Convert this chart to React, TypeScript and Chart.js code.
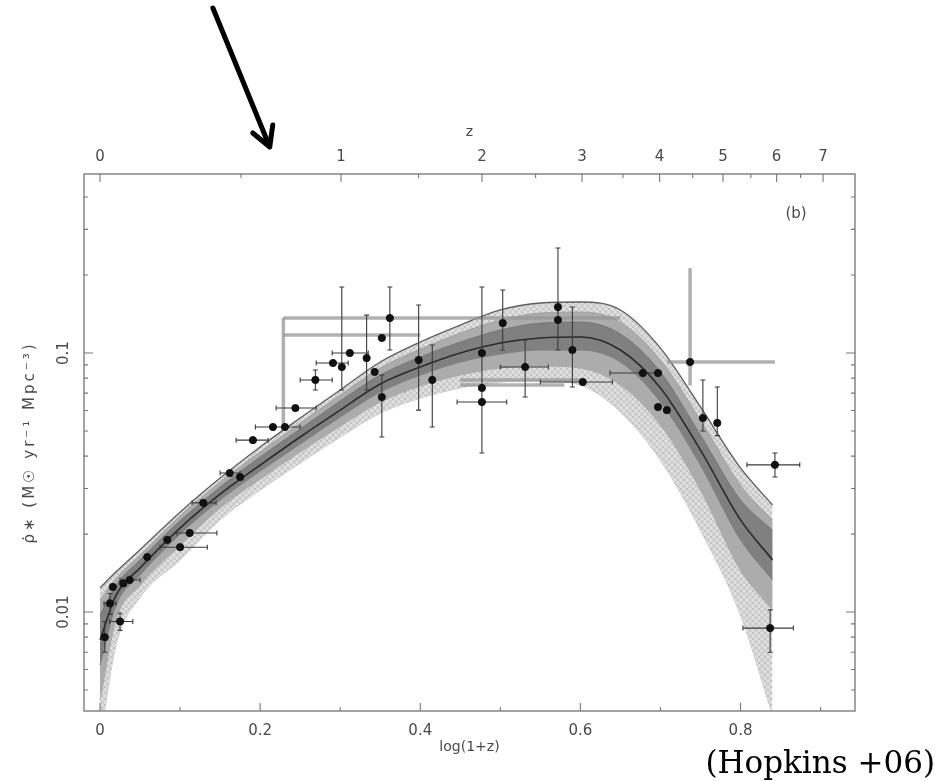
import React, { useEffect, useRef } from 'react';
import { Chart, registerables } from 'chart.js';
Chart.register(...registerables);

// ---------- axes ----------
const xMin = -0.02;
const xMax = 0.943;
const yMin = 0.00415;
const yMax = 0.491;
const xTickValues = [0, 0.2, 0.4, 0.6, 0.8];
const xTickLabels = ['0', '0.2', '0.4', '0.6', '0.8'];
const xMinorTicks = [0.1, 0.3, 0.5, 0.7, 0.9];
const zTickValues = [0, 1, 2, 3, 4, 5, 6, 7];
const zTickLabels = ['0', '1', '2', '3', '4', '5', '6', '7'];
const zMinorTicks = [0.5, 1.5, 2.5, 3.5, 4.5, 5.5, 6.5];
const yMajorTicks = [0.01, 0.1];
const yTickLabels = ['0.01', '0.1'];
const yMinorTicks = [0.005, 0.006, 0.007, 0.008, 0.009, 0.02, 0.03, 0.04, 0.05, 0.06, 0.07, 0.08, 0.09, 0.2, 0.3, 0.4];

const xTitle = 'log(1+z)';
const zTitle = 'z';
const yTitle = 'ρ̇∗ (M☉ yr⁻¹ Mpc⁻³)';
const panelLabel = '(b)';
const citation = '(Hopkins +06)';
const arrowTipX = 0.212;
const arrowTailX = 0.141;

// ---------- fit bands (log(1+z) vs SFR density) ----------
const bandX = [0, 0.02, 0.05, 0.1, 0.15, 0.2, 0.25, 0.3, 0.35, 0.4, 0.45, 0.5, 0.55, 0.6, 0.65, 0.7, 0.75, 0.8, 0.84];
const outerUpper = [0.0124, 0.0143, 0.0174, 0.0243, 0.0329, 0.0434, 0.0561, 0.072, 0.0923, 0.1103, 0.1282, 0.1466, 0.156, 0.1574, 0.1466, 0.1045, 0.0619, 0.036, 0.0259];
const midUpper = [0.0111, 0.0135, 0.0166, 0.0235, 0.0318, 0.0415, 0.0537, 0.0688, 0.0875, 0.1036, 0.1195, 0.1341, 0.1427, 0.144, 0.1317, 0.094, 0.0551, 0.0309, 0.0227];
const innerUpper = [0.00974, 0.0127, 0.0159, 0.0225, 0.0304, 0.0397, 0.0509, 0.0653, 0.0822, 0.0965, 0.1103, 0.1227, 0.1305, 0.1317, 0.1184, 0.0845, 0.0482, 0.0271, 0.0207];
const centerFit = [0.0078, 0.0116, 0.0148, 0.0211, 0.0285, 0.0369, 0.0474, 0.0602, 0.0759, 0.0883, 0.1, 0.1093, 0.1143, 0.1153, 0.1027, 0.0733, 0.0422, 0.0227, 0.0159];
const innerLower = [0.00624, 0.0106, 0.0139, 0.02, 0.0271, 0.035, 0.0445, 0.0566, 0.0707, 0.0822, 0.0923, 0.0991, 0.1027, 0.1027, 0.0923, 0.0647, 0.0369, 0.019, 0.0133];
const midLower = [0.00457, 0.00931, 0.0127, 0.0181, 0.0252, 0.0326, 0.0415, 0.0522, 0.0647, 0.0746, 0.0822, 0.0875, 0.0891, 0.0875, 0.0752, 0.0527, 0.0296, 0.0145, 0.0102];
const outerLower = [0.00321, 0.00746, 0.0114, 0.0159, 0.0227, 0.0296, 0.0376, 0.0474, 0.0586, 0.067, 0.0733, 0.0773, 0.078, 0.0752, 0.0592, 0.0386, 0.0207, 0.00974, 0.004];

// ---------- measurements ----------
const ptX = [0.006, 0.0125, 0.016, 0.025, 0.029, 0.037, 0.059, 0.084, 0.1, 0.112, 0.129, 0.162, 0.175, 0.191, 0.216, 0.231, 0.244, 0.269, 0.291, 0.302, 0.312, 0.333, 0.343, 0.352, 0.362, 0.352, 0.398, 0.415, 0.477, 0.477, 0.477, 0.503, 0.531, 0.572, 0.572, 0.59, 0.603, 0.678, 0.697, 0.697, 0.708, 0.737, 0.753, 0.771, 0.843, 0.837];
const ptY = [0.008, 0.0108, 0.0125, 0.0092, 0.0129, 0.0133, 0.0163, 0.019, 0.0178, 0.0202, 0.0264, 0.0344, 0.0332, 0.0461, 0.0518, 0.0518, 0.0613, 0.0787, 0.0915, 0.0883, 0.1, 0.0956, 0.0845, 0.1143, 0.1365, 0.0676, 0.094, 0.0787, 0.1, 0.0733, 0.0647, 0.1305, 0.0883, 0.1505, 0.1341, 0.1027, 0.0773, 0.0837, 0.0837, 0.0619, 0.0602, 0.0923, 0.0561, 0.0537, 0.037, 0.00867];
const ptXLo = [null, 0.005, null, 0.012, null, 0.025, null, null, 0.075, 0.096, 0.115, 0.15, null, 0.17, 0.194, null, 0.22, 0.25, 0.27, null, 0.29, null, null, null, null, null, null, null, null, null, 0.446, null, 0.5, null, null, null, 0.55, 0.637, null, null, null, null, null, null, 0.808, 0.803];
const ptXHi = [null, 0.02, null, 0.041, null, 0.05, null, null, 0.134, 0.146, 0.145, 0.175, null, 0.21, 0.25, null, 0.27, 0.29, 0.31, null, 0.335, null, null, null, null, null, null, null, null, null, 0.508, null, 0.56, null, null, null, 0.64, 0.7, null, null, null, null, null, null, 0.874, 0.866];
const ptYLo = [0.007, 0.0098, null, 0.0085, null, null, null, null, null, null, null, null, null, null, null, null, null, 0.072, null, 0.072, null, 0.072, null, null, 0.1027, 0.0474, 0.0602, 0.0518, 0.0411, null, null, 0.1027, 0.0676, 0.1027, null, 0.0739, null, null, null, null, null, null, 0.05, 0.048, 0.0332, 0.007];
const ptYHi = [0.0092, 0.0118, null, 0.0099, null, null, null, null, null, null, null, null, null, null, null, null, null, 0.086, null, 0.1798, null, 0.1401, null, null, 0.1798, 0.0822, 0.1532, 0.1074, 0.1798, null, null, 0.1751, 0.1122, 0.2543, null, 0.1505, null, null, null, null, null, null, 0.0787, 0.0739, 0.0411, 0.0102];

const grayX = [0.362, 0.352, 0.229, 0.737, 0.52, 0.52];
const grayY = [0.1365, 0.1174, 0.07, 0.0923, 0.0787, 0.0752];
const grayXLo = [0.229, 0.229, null, 0.708, 0.45, 0.45];
const grayXHi = [0.65, 0.4, null, 0.843, 0.6, 0.58];
const grayYLo = [null, null, 0.0502, 0.075, null, null];
const grayYHi = [null, null, 0.1365, 0.2129, null, null];

const toXY = (xs: number[], ys: number[]) => xs.map((x, i) => ({ x, y: ys[i] }));

function drawErrorBars(ctx: any, sx: any, sy: any, xs: any[], ys: any[], xl: any[], xh: any[], yl: any[], yh: any[], color: string, width: number, cap: number) {
  ctx.save();
  ctx.strokeStyle = color;
  ctx.lineWidth = width;
  for (let i = 0; i < xs.length; i++) {
    const px = sx.getPixelForValue(xs[i]);
    const py = sy.getPixelForValue(ys[i]);
    ctx.beginPath();
    if (xl[i] != null) {
      const a = sx.getPixelForValue(xl[i]);
      const b = sx.getPixelForValue(xh[i]);
      ctx.moveTo(a, py); ctx.lineTo(b, py);
      if (cap > 0) { ctx.moveTo(a, py - cap); ctx.lineTo(a, py + cap); ctx.moveTo(b, py - cap); ctx.lineTo(b, py + cap); }
    }
    if (yl[i] != null) {
      const a = sy.getPixelForValue(yl[i]);
      const b = sy.getPixelForValue(yh[i]);
      ctx.moveTo(px, a); ctx.lineTo(px, b);
      if (cap > 0) { ctx.moveTo(px - cap, a); ctx.lineTo(px + cap, a); ctx.moveTo(px - cap, b); ctx.lineTo(px + cap, b); }
    }
    ctx.stroke();
  }
  ctx.restore();
}

const decorPlugin = {
  id: 'decor',
  beforeDatasetDraw(chart: any, args: any) {
    const ds = chart.data.datasets[args.index];
    const ctx = chart.ctx;
    const sx = chart.scales.x;
    const sy = chart.scales.y;
    const a = chart.chartArea;
    if (ds.label === 'grayBars' || ds.label === 'points') {
      ctx.save();
      ctx.beginPath();
      ctx.rect(a.left, a.top, a.right - a.left, a.bottom - a.top);
      ctx.clip();
      if (ds.label === 'grayBars') {
        drawErrorBars(ctx, sx, sy, grayX, grayY, grayXLo, grayXHi, grayYLo, grayYHi, 'rgba(150,150,150,0.75)', 3.5, 0);
      } else {
        drawErrorBars(ctx, sx, sy, ptX, ptY, ptXLo, ptXHi, ptYLo, ptYHi, '#3a3a3a', 1.1, 2.5);
      }
      ctx.restore();
    }
  },
  afterDatasetsDraw(chart: any) {
    const ctx = chart.ctx;
    const a = chart.chartArea;
    const sx = chart.scales.x;
    const sx2 = chart.scales.x2;
    const sy = chart.scales.y;
    ctx.save();
    // frame
    ctx.strokeStyle = '#8c8c8c';
    ctx.lineWidth = 1.6;
    ctx.strokeRect(a.left, a.top, a.right - a.left, a.bottom - a.top);
    // inward ticks
    ctx.lineWidth = 1.1;
    ctx.strokeStyle = '#777';
    ctx.beginPath();
    const vt = (p: number, len: number, top: boolean) => {
      if (top) { ctx.moveTo(p, a.top); ctx.lineTo(p, a.top + len); }
      else { ctx.moveTo(p, a.bottom); ctx.lineTo(p, a.bottom - len); }
    };
    xTickValues.forEach((v) => vt(sx.getPixelForValue(v), 8, false));
    xMinorTicks.forEach((v) => { if (v <= xMax) vt(sx.getPixelForValue(v), 4, false); });
    zTickValues.forEach((z) => vt(sx2.getPixelForValue(Math.log10(1 + z)), 8, true));
    zMinorTicks.forEach((z) => vt(sx2.getPixelForValue(Math.log10(1 + z)), 4, true));
    const ht = (v: number, len: number) => {
      const p = sy.getPixelForValue(v);
      ctx.moveTo(a.left, p); ctx.lineTo(a.left + len, p);
      ctx.moveTo(a.right, p); ctx.lineTo(a.right - len, p);
    };
    yMajorTicks.forEach((v) => ht(v, 9));
    yMinorTicks.forEach((v) => ht(v, 4));
    ctx.stroke();

    ctx.fillStyle = '#4a4a4a';
    ctx.font = '15px "DejaVu Sans"';
    ctx.textAlign = 'center';
    ctx.textBaseline = 'middle';
    // x tick labels (bottom: log(1+z), top: z)
    xTickValues.forEach((v, i) => ctx.fillText(xTickLabels[i], sx.getPixelForValue(v), a.bottom + 20));
    zTickValues.forEach((z, i) => ctx.fillText(zTickLabels[i], sx2.getPixelForValue(Math.log10(1 + z)), a.top - 17));
    // rotated y tick labels
    yMajorTicks.forEach((v, i) => {
      const p = sy.getPixelForValue(v);
      ctx.save();
      ctx.translate(a.left - 20, p);
      ctx.rotate(-Math.PI / 2);
      ctx.fillText(yTickLabels[i], 0, 0);
      ctx.restore();
    });
    // y title
    ctx.save();
    ctx.translate(a.left - 54, (a.top + a.bottom) / 2);
    ctx.rotate(-Math.PI / 2);
    ctx.font = '15px "DejaVu Sans"';
    (ctx as any).letterSpacing = '3px';
    ctx.fillText(yTitle, 0, 0);
    ctx.restore();
    // x titles
    ctx.font = '14px "DejaVu Sans"';
    ctx.fillText(xTitle, (a.left + a.right) / 2, a.bottom + 36);
    ctx.fillText(zTitle, (a.left + a.right) / 2, a.top - 42);
    // panel label
    ctx.font = '15px "DejaVu Sans"';
    ctx.fillText(panelLabel, a.right - 59, a.top + 40);
    // citation
    ctx.fillStyle = '#000';
    ctx.font = '31px "DejaVu Serif"';
    ctx.textAlign = 'right';
    ctx.textBaseline = 'alphabetic';
    ctx.fillText(citation, chart.width - 3, chart.height - 8);
    // arrow
    const tipX = sx2.getPixelForValue(arrowTipX);
    const tailX = sx2.getPixelForValue(arrowTailX);
    const tipY = a.top - 27;
    const tailY = 8;
    ctx.strokeStyle = '#000';
    ctx.lineWidth = 5;
    ctx.lineCap = 'round';
    ctx.lineJoin = 'round';
    ctx.beginPath();
    ctx.moveTo(tailX, tailY);
    ctx.lineTo(tipX, tipY);
    ctx.moveTo(tipX - 17, tipY - 14);
    ctx.lineTo(tipX, tipY);
    ctx.lineTo(tipX + 3, tipY - 22);
    ctx.stroke();
    ctx.restore();
  },
};

function makeHatch() {
  const c = document.createElement('canvas');
  c.width = 6; c.height = 6;
  const g = c.getContext('2d')!;
  g.fillStyle = '#dedede';
  g.fillRect(0, 0, 6, 6);
  g.strokeStyle = '#c2c2c2';
  g.lineWidth = 1;
  g.beginPath();
  g.moveTo(0, 6); g.lineTo(6, 0);
  g.moveTo(0, 0); g.lineTo(6, 6);
  g.stroke();
  return g.createPattern(c, 'repeat');
}

export default function App() {
  const ref = useRef<HTMLCanvasElement>(null);
  useEffect(() => {
    const hatch = makeHatch();
    const line = (label: string, ys: number[], extra: any) => ({
      label,
      data: toXY(bandX, ys),
      pointRadius: 0,
      cubicInterpolationMode: 'monotone',
      ...extra,
    });
    const chart = new Chart(ref.current!, {
      type: 'line',
      data: {
        datasets: [
          line('outerUpper', outerUpper, { fill: '+1', backgroundColor: hatch, borderColor: '#5e5e5e', borderWidth: 1.3, order: 10 }),
          line('outerLower', outerLower, { fill: false, borderColor: '#b0b0b0', borderWidth: 0.8, order: 10 }),
          line('midUpper', midUpper, { fill: '+1', backgroundColor: '#acacac', borderColor: '#9a9a9a', borderWidth: 0.8, order: 8 }),
          line('midLower', midLower, { fill: false, borderColor: '#9a9a9a', borderWidth: 0.8, order: 8 }),
          line('innerUpper', innerUpper, { fill: '+1', backgroundColor: '#808080', borderColor: '#707070', borderWidth: 0.8, order: 6 }),
          line('innerLower', innerLower, { fill: false, borderColor: '#707070', borderWidth: 0.8, order: 6 }),
          line('centerFit', centerFit, { fill: false, borderColor: '#2a2a2a', borderWidth: 1.6, order: 4 }),
          {
            label: 'grayBars', type: 'scatter', data: toXY(grayX, grayY), pointRadius: 0, showLine: false, order: 2,
          },
          {
            label: 'points', type: 'scatter', data: toXY(ptX, ptY), pointRadius: 3.6, pointBackgroundColor: '#111', pointBorderColor: '#111', showLine: false, order: 0,
          },
        ] as any,
      },
      options: {
        responsive: false,
        animation: false,
        events: [],
        layout: { padding: { left: 84, top: 174, right: 83, bottom: 70 } },
        plugins: { legend: { display: false }, tooltip: { enabled: false } },
        scales: {
          x: {
            type: 'linear', position: 'bottom', min: xMin, max: xMax,
            afterBuildTicks: (s: any) => { s.ticks = xTickValues.map((v) => ({ value: v })); },
            afterFit: (s: any) => { s.height = 0; },
            grid: { display: false }, border: { display: false },
            ticks: { display: false },
          },
          x2: {
            type: 'linear', position: 'top', min: xMin, max: xMax,
            afterBuildTicks: (s: any) => { s.ticks = zTickValues.map((z) => ({ value: Math.log10(1 + z) })); },
            afterFit: (s: any) => { s.height = 0; },
            grid: { display: false }, border: { display: false },
            ticks: { display: false },
          },
          y: {
            type: 'logarithmic', min: yMin, max: yMax,
            afterFit: (s: any) => { s.width = 0; },
            grid: { display: false }, border: { display: false },
            ticks: { display: false },
          },
        },
      } as any,
      plugins: [decorPlugin],
    });
    return () => chart.destroy();
  }, []);
  return (
    <div style={{ position: 'fixed', left: 0, top: 0, width: 938, height: 781, background: '#fff' }}>
      <canvas ref={ref} width={938} height={781} style={{ width: 938, height: 781, display: 'block' }} />
    </div>
  );
}
